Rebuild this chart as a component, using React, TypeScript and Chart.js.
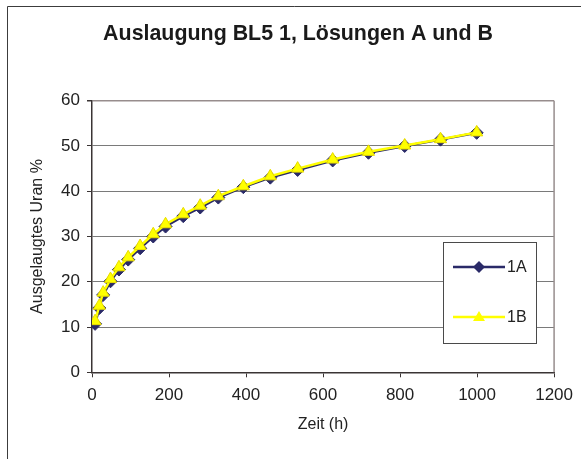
import React, { useEffect, useRef } from "react";
import { Chart, registerables } from "chart.js";

Chart.register(...registerables);

const chartTitle = "Auslaugung BL5 1, Lösungen A und B";
const xTitle = "Zeit (h)";
const yTitle = "Ausgelaugtes Uran %";
const seriesNames = ["1A", "1B"];
const hours = [8, 19, 29, 48, 70, 94, 125, 159, 191, 237, 281, 328, 393, 463, 534, 625, 718, 812, 905, 999];
const series1A = [10.7, 14.2, 17.1, 20.1, 22.7, 24.9, 27.4, 30.0, 32.2, 34.5, 36.4, 38.6, 40.9, 43.0, 44.7, 46.8, 48.5, 50.0, 51.4, 52.9];
const series1B = [11.3, 14.7, 17.6, 20.6, 23.2, 25.4, 27.9, 30.5, 32.7, 34.9, 36.8, 38.9, 41.1, 43.3, 45.0, 47.0, 48.7, 50.1, 51.5, 53.0];
const xTicks = [0, 200, 400, 600, 800, 1000, 1200];
const yTicks = [0, 10, 20, 30, 40, 50, 60];

const NAVY = "#2a2a68";
const YELLOW = "#ffff00";
const FONT = "Arial, 'Liberation Sans', sans-serif";

export default function App() {
  const ref = useRef<HTMLCanvasElement | null>(null);

  useEffect(() => {
    const canvas = ref.current;
    if (!canvas) return;

    const decor = {
      id: "decor",
      beforeDraw(chart: any) {
        const ctx = chart.ctx;
        ctx.save();
        ctx.fillStyle = "#ffffff";
        ctx.fillRect(0, 0, chart.width, chart.height);
        ctx.restore();
      },
      afterDraw(chart: any) {
        const ctx = chart.ctx;
        const a = chart.chartArea;
        ctx.save();
        // outer frame
        ctx.strokeStyle = "#3c3c3c";
        ctx.lineWidth = 1;
        ctx.beginPath();
        ctx.moveTo(7.5, chart.height);
        ctx.lineTo(7.5, 6.5);
        ctx.lineTo(chart.width, 6.5);
        ctx.stroke();
        // right border of plot area
        ctx.strokeStyle = "#978d8d";
        ctx.lineWidth = 1.5;
        ctx.beginPath();
        ctx.moveTo(a.right, a.top);
        ctx.lineTo(a.right, a.bottom);
        ctx.stroke();
        // title
        ctx.fillStyle = "#1a1a1a";
        ctx.font = "bold 21.4px " + FONT;
        ctx.textAlign = "center";
        ctx.textBaseline = "middle";
        ctx.fillText(chartTitle, 298, 34);
        // legend
        const lx = 443, ly = 242, lw = 93, lh = 101;
        ctx.fillStyle = "#ffffff";
        ctx.fillRect(lx, ly, lw, lh);
        ctx.strokeStyle = "#4a4a4a";
        ctx.lineWidth = 1;
        ctx.strokeRect(lx + 0.5, ly + 0.5, lw, lh);
        const rows = [ly + 25, ly + 75];
        const colors = [NAVY, YELLOW];
        rows.forEach((y, i) => {
          ctx.strokeStyle = colors[i];
          ctx.lineWidth = 2.5;
          ctx.beginPath();
          ctx.moveTo(453, y);
          ctx.lineTo(505, y);
          ctx.stroke();
          ctx.fillStyle = colors[i];
          ctx.beginPath();
          if (i === 0) {
            ctx.moveTo(479, y - 6);
            ctx.lineTo(485, y);
            ctx.lineTo(479, y + 6);
            ctx.lineTo(473, y);
          } else {
            ctx.moveTo(479, y - 6);
            ctx.lineTo(485, y + 4);
            ctx.lineTo(473, y + 4);
          }
          ctx.closePath();
          ctx.fill();
          ctx.fillStyle = "#222222";
          ctx.font = "16px " + FONT;
          ctx.textAlign = "left";
          ctx.textBaseline = "middle";
          ctx.fillText(seriesNames[i], 507, y + 1);
        });
        ctx.restore();
      },
    };

    const chart = new Chart(canvas, {
      type: "line",
      data: {
        datasets: [
          {
            label: seriesNames[0],
            data: hours.map((h, i) => ({ x: h, y: series1A[i] })),
            borderColor: NAVY,
            backgroundColor: NAVY,
            borderWidth: 2.5,
            pointStyle: "rectRot",
            pointRadius: 6.5,
            pointBackgroundColor: NAVY,
            pointBorderColor: NAVY,
            pointBorderWidth: 1,
            tension: 0,
            order: 2,
          },
          {
            label: seriesNames[1],
            data: hours.map((h, i) => ({ x: h, y: series1B[i] })),
            borderColor: YELLOW,
            backgroundColor: YELLOW,
            borderWidth: 2.5,
            pointStyle: "triangle",
            pointRadius: 7,
            pointBackgroundColor: YELLOW,
            pointBorderColor: "#e8dc00",
            pointBorderWidth: 1,
            tension: 0,
            order: 1,
          },
        ],
      },
      options: {
        responsive: false,
        animation: false,
        events: [],
        layout: { padding: { left: 28, top: 100.7, right: 19, bottom: 25 } },
        plugins: {
          legend: { display: false },
          title: { display: false },
          tooltip: { enabled: false },
        },
        scales: {
          x: {
            type: "linear",
            min: 0,
            max: 1200,
            afterFit: (s: any) => {
              s.height = 61.7;
            },
            afterBuildTicks: (s: any) => {
              s.ticks = xTicks.map((v) => ({ value: v }));
            },
            ticks: {
              color: "#222222",
              font: { family: FONT, size: 17 },
              padding: 8,
              maxRotation: 0,
              autoSkip: false,
              callback: (v: any) => String(v),
            },
            grid: {
              drawOnChartArea: false,
              drawTicks: true,
              tickLength: 5,
              tickColor: "#3a3434",
            },
            border: { display: true, color: "#3a3434", width: 1.5 },
            title: {
              display: true,
              text: xTitle,
              color: "#222222",
              font: { family: FONT, size: 16 },
              padding: 0,
            },
          },
          y: {
            type: "linear",
            min: 0,
            max: 60,
            afterFit: (s: any) => {
              s.width = 64;
            },
            afterBuildTicks: (s: any) => {
              s.ticks = yTicks.map((v) => ({ value: v }));
            },
            ticks: {
              color: "#222222",
              font: { family: FONT, size: 17 },
              padding: 7,
              autoSkip: false,
              callback: (v: any) => String(v),
            },
            grid: {
              drawOnChartArea: true,
              drawTicks: true,
              tickLength: 5,
              tickColor: "#3a3434",
              color: (c: any) => (c.tick && c.tick.value === 60 ? "#978d8d" : "#7a7a7a"),
              lineWidth: (c: any) => (c.tick && c.tick.value === 60 ? 1.5 : 1),
            },
            border: { display: true, color: "#3a3434", width: 1.5 },
            title: {
              display: true,
              text: yTitle,
              color: "#222222",
              font: { family: FONT, size: 16 },
              padding: 0,
            },
          },
        },
      },
      plugins: [decor],
    } as any);

    return () => chart.destroy();
  }, []);

  return (
    <div style={{ position: "fixed", left: 0, top: 0, width: 581, height: 459 }}>
      <canvas ref={ref} width={581} height={459} style={{ width: 581, height: 459 }} />
    </div>
  );
}
